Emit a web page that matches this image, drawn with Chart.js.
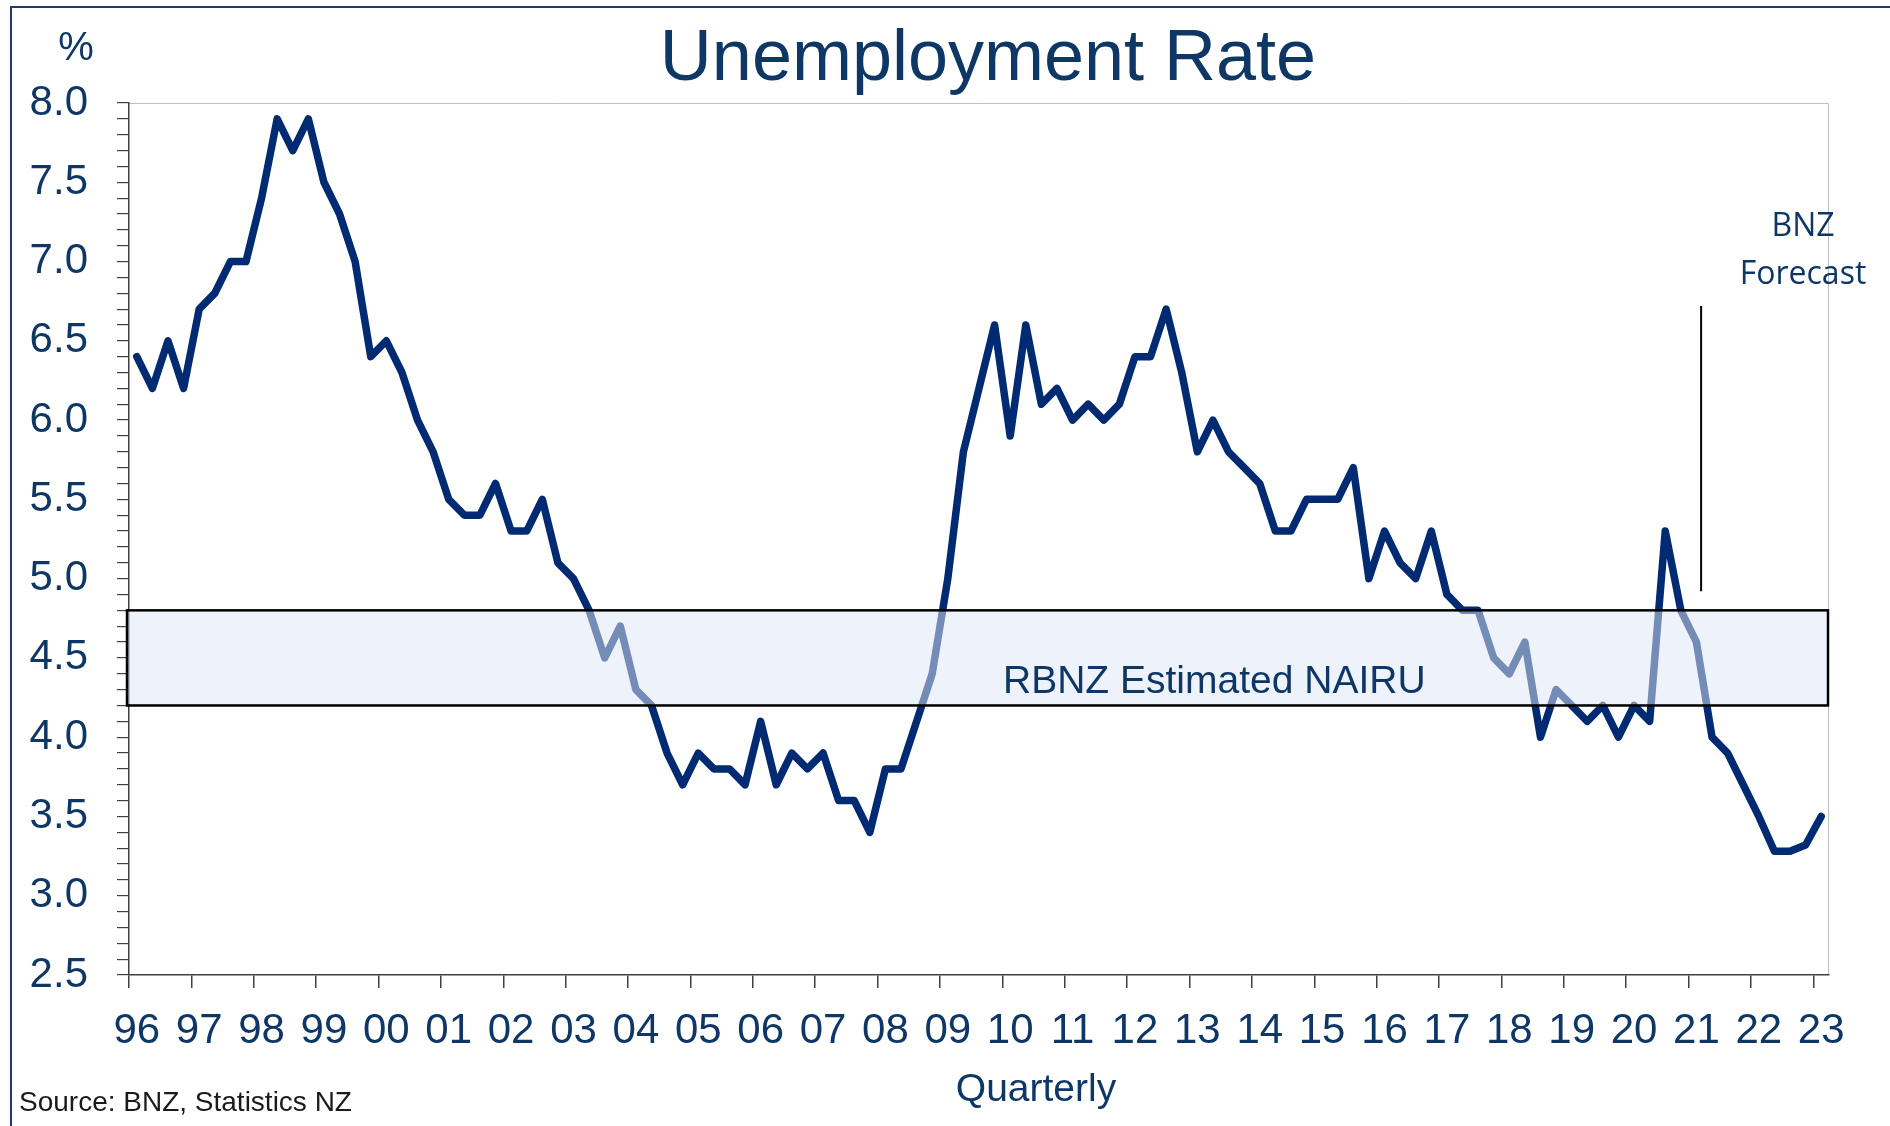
<!DOCTYPE html>
<html lang="en">
<head>
    <meta charset="UTF-8">
    <title>Unemployment Rate</title>
    <script src="https://cdn.jsdelivr.net/npm/chart.js@4"></script>
    <style>
        body { margin: 0; background: #fff; }
        #wrap { width: 1890px; height: 1126px; position: relative; }
    </style>
</head>
<body>
<div id="wrap">
    <canvas id="chart"></canvas>
</div>
<script>
    // quarterly, 1996Q1 .. 2023Q1 (BNZ forecast from 2021Q2)
    const years = ['96', '97', '98', '99', '00', '01', '02', '03', '04', '05', '06', '07', '08', '09',
        '10', '11', '12', '13', '14', '15', '16', '17', '18', '19', '20', '21', '22', '23'];
    const quarters = [];
    years.forEach(y => ['Q1', 'Q2', 'Q3', 'Q4'].forEach(q => quarters.push(y + q)));
    quarters.length = 109;

    const unemployment = [
        6.4, 6.2, 6.5, 6.2, 6.7, 6.8, 7.0, 7.0, 7.4, 7.9, 7.7, 7.9,
        7.5, 7.3, 7.0, 6.4, 6.5, 6.3, 6.0, 5.8, 5.5, 5.4, 5.4, 5.6,
        5.3, 5.3, 5.5, 5.1, 5.0, 4.8, 4.5, 4.7, 4.3, 4.2, 3.9, 3.7,
        3.9, 3.8, 3.8, 3.7, 4.1, 3.7, 3.9, 3.8, 3.9, 3.6, 3.6, 3.4,
        3.8, 3.8, 4.1, 4.4, 5.0, 5.8, 6.2, 6.6, 5.9, 6.6, 6.1, 6.2,
        6.0, 6.1, 6.0, 6.1, 6.4, 6.4, 6.7, 6.3, 5.8, 6.0, 5.8, 5.7,
        5.6, 5.3, 5.3, 5.5, 5.5, 5.5, 5.7, 5.0, 5.3, 5.1, 5.0, 5.3,
        4.9, 4.8, 4.8, 4.5, 4.4, 4.6, 4.0, 4.3, 4.2, 4.1, 4.2, 4.0,
        4.2, 4.1, 5.3, 4.8, 4.6, 4.0, 3.9, 3.7, 3.5, 3.28, 3.28, 3.32,
        3.5
    ];

    const nairuLow = 4.2;
    const nairuHigh = 4.8;
    const forecastAt = 100.3;       // category position of the forecast marker
    const forecastSpan = [4.92, 6.72];

    const navy = '#002a72';
    const textBlue = '#0e3766';
    const font = "'Liberation Sans', Arial, sans-serif";

    function text(ctx, str, x, y, size, color, align, family) {
        ctx.font = size + 'px ' + (family || font);
        ctx.fillStyle = color;
        ctx.textAlign = align || 'left';
        ctx.textBaseline = 'alphabetic';
        ctx.fillText(str, x, y);
    }

    const decorations = {
        id: 'decorations',
        beforeDraw(chart) {
            const ctx = chart.ctx;
            ctx.save();
            ctx.fillStyle = '#fff';
            ctx.fillRect(0, 0, chart.width, chart.height);
            // outer frame (top + left only)
            ctx.strokeStyle = '#1f3a6e';
            ctx.lineWidth = 2;
            ctx.beginPath();
            ctx.moveTo(11, chart.height);
            ctx.lineTo(11, 7);
            ctx.lineTo(chart.width, 7);
            ctx.stroke();
            // light plot border top / right
            const a = chart.chartArea;
            ctx.strokeStyle = '#c0c0c0';
            ctx.lineWidth = 1;
            ctx.beginPath();
            ctx.moveTo(a.left, a.top + 0.5);
            ctx.lineTo(a.right - 0.5, a.top + 0.5);
            ctx.lineTo(a.right - 0.5, a.bottom);
            ctx.stroke();
            ctx.restore();
        },
        afterDatasetsDraw(chart) {
            const ctx = chart.ctx;
            const a = chart.chartArea;
            const x = chart.scales.x, y = chart.scales.y;
            ctx.save();
            // NAIRU band over the line
            const yTop = y.getPixelForValue(nairuHigh);
            const yBot = y.getPixelForValue(nairuLow);
            ctx.fillStyle = 'rgba(222,230,245,0.52)';
            ctx.fillRect(a.left - 2, yTop, a.right - a.left + 1, yBot - yTop);
            ctx.strokeStyle = '#000';
            ctx.lineWidth = 2.5;
            ctx.strokeRect(a.left - 2, yTop, a.right - a.left + 1, yBot - yTop);
            text(ctx, 'RBNZ Estimated NAIRU', 1003, 693, 39, textBlue);

            // forecast marker
            const fx = x.getPixelForValue(forecastAt);
            ctx.strokeStyle = '#000';
            ctx.lineWidth = 2;
            ctx.beginPath();
            ctx.moveTo(fx, y.getPixelForValue(forecastSpan[1]));
            ctx.lineTo(fx, y.getPixelForValue(forecastSpan[0]));
            ctx.stroke();
            text(ctx, 'BNZ', 1803, 236, 32, textBlue, 'center', "'Open Sans', sans-serif");
            text(ctx, 'Forecast', 1803, 284, 32, textBlue, 'center', "'Open Sans', sans-serif");

            // titles
            text(ctx, 'Unemployment Rate', 988, 80, 72, textBlue, 'center');
            text(ctx, '%', 76, 60, 40, textBlue, 'center');
            text(ctx, 'Quarterly', 1036, 1101, 39, textBlue, 'center');
            text(ctx, 'Source: BNZ, Statistics NZ', 19, 1111, 28, '#1a1a1a');
            ctx.restore();
        }
    };

    const config = {
        type: 'line',
        data: {
            labels: quarters,
            datasets: [{
                label: 'Unemployment rate',
                data: unemployment,
                borderColor: navy,
                borderWidth: 7.5,
                borderJoinStyle: 'round',
                borderCapStyle: 'round',
                pointRadius: 0,
                tension: 0,
                fill: false
            }]
        },
        options: {
            responsive: true,
            maintainAspectRatio: false,
            animation: false,
            events: [],
            layout: {padding: {left: 0, top: 103, right: 61, bottom: 0}},
            plugins: {
                legend: {display: false},
                title: {display: false},
                tooltip: {enabled: false}
            },
            scales: {
                x: {
                    type: 'category',
                    offset: true,
                    afterFit(scale) { scale.height = 151; },
                    border: {display: true, color: '#404040', width: 1.5},
                    grid: {
                        offset: true,
                        drawOnChartArea: false,
                        tickLength: 13,
                        color: ctx => ctx.index % 4 === 0 ? '#404040' : 'rgba(0,0,0,0)',
                        lineWidth: 1.5
                    },
                    ticks: {
                        autoSkip: false,
                        maxRotation: 0,
                        padding: 18,
                        color: textBlue,
                        font: {family: font, size: 42},
                        callback: (v, i) => i % 4 === 0 ? years[i / 4] : ''
                    }
                },
                y: {
                    min: 2.5,
                    max: 8.0,
                    afterFit(scale) { scale.width = 129; },
                    border: {display: true, color: '#404040', width: 1.5},
                    grid: {
                        drawOnChartArea: false,
                        tickLength: 12,
                        color: '#404040',
                        lineWidth: 1.2
                    },
                    ticks: {
                        stepSize: 0.1,
                        maxTicksLimit: 100,
                        autoSkip: false,
                        padding: 29,
                        color: textBlue,
                        font: {family: font, size: 42},
                        callback: v => {
                            const t = Math.round(v * 10);
                            return t % 5 === 0 ? (t / 10).toFixed(1) : '';
                        }
                    }
                }
            }
        },
        plugins: [decorations]
    };
    const chart = new Chart(document.getElementById('chart'), config);
</script>
</body>
</html>
